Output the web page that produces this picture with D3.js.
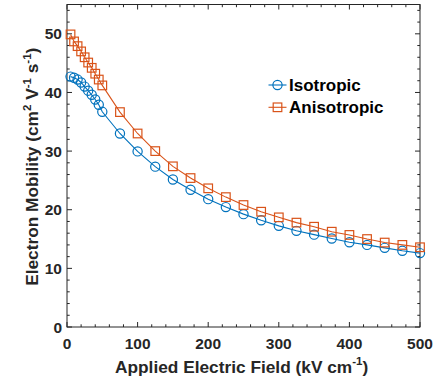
<!DOCTYPE html>
<html>
<head>
<meta charset="utf-8">
<script src="https://cdn.jsdelivr.net/npm/d3@7"></script>
<style>
  body { margin: 0; background: #fff; }
  svg { display: block; font-family: "Liberation Sans", Arial, sans-serif; }
</style>
</head>
<body>
<div id="chart"></div>
<script>
// field values (kV/cm)
const fields = [5, 10, 15, 20, 25, 30, 35, 40, 45, 50, 75, 100, 125, 150, 175, 200,
  225, 250, 275, 300, 325, 350, 375, 400, 425, 450, 475, 500];
const isotropic = [42.7, 42.5, 42.2, 41.7, 41.0, 40.3, 39.6, 38.8, 37.9, 36.7, 33.0, 29.95,
  27.35, 25.15, 23.4, 21.8, 20.45, 19.25, 18.2, 17.25, 16.4, 15.75, 15.1, 14.45, 14.0, 13.5, 13.0, 12.6];
const anisotropic = [49.9, 48.7, 47.9, 47.0, 46.0, 45.1, 44.2, 43.2, 42.2, 41.2, 36.65, 33.0,
  30.0, 27.4, 25.4, 23.65, 22.15, 20.8, 19.66, 18.7, 17.8, 17.1, 16.25, 15.7, 15.0, 14.4, 14.0, 13.6];
const xTicks = [0, 100, 200, 300, 400, 500];
const yTicks = [0, 10, 20, 30, 40, 50];

const width = 442, height = 381;
const margin = { top: 4.5, right: 22, bottom: 54, left: 67 };
const axisColor = '#262626';
const blue = '#0072BD', orange = '#D95319';

const svg = d3.select('#chart').append('svg')
  .attr('width', width)
  .attr('height', height);

const x = d3.scaleLinear().domain([0, 500]).range([margin.left, width - margin.right]);
const y = d3.scaleLinear().domain([0, 55]).range([height - margin.bottom, margin.top]);

const x0 = x.range()[0], x1 = x.range()[1];
const y0 = y.range()[0], y1 = y.range()[1];

// minor + major ticks, pointing inward on all four sides
const g = svg.append('g').attr('stroke', axisColor).attr('stroke-width', 1);
d3.range(0, 501, 20).forEach(v => {
  const len = v % 100 === 0 ? 5 : 2.7;
  g.append('line').attr('x1', x(v)).attr('x2', x(v)).attr('y1', y0).attr('y2', y0 - len);
  g.append('line').attr('x1', x(v)).attr('x2', x(v)).attr('y1', y1).attr('y2', y1 + len);
});
d3.range(0, 55, 2).forEach(v => {
  const len = v % 10 === 0 ? 5 : 2.7;
  g.append('line').attr('y1', y(v)).attr('y2', y(v)).attr('x1', x0).attr('x2', x0 + len);
  g.append('line').attr('y1', y(v)).attr('y2', y(v)).attr('x1', x1).attr('x2', x1 - len);
});

svg.append('rect')
  .attr('x', x0).attr('y', y1)
  .attr('width', x1 - x0).attr('height', y0 - y1)
  .attr('fill', 'none').attr('stroke', axisColor).attr('stroke-width', 1);

// tick labels
svg.append('g').selectAll('text').data(xTicks).enter().append('text')
  .attr('x', d => x(d)).attr('y', y0 + 22)
  .attr('text-anchor', 'middle')
  .attr('font-size', 15.5).attr('font-weight', 'bold').attr('fill', axisColor)
  .text(d => d);

svg.append('g').selectAll('text').data(yTicks).enter().append('text')
  .attr('x', x0 - 5).attr('y', d => y(d) + 5.5)
  .attr('text-anchor', 'end')
  .attr('font-size', 15.5).attr('font-weight', 'bold').attr('fill', axisColor)
  .text(d => d);

// axis labels
const xl = svg.append('text')
  .attr('x', 115).attr('y', 372.5)
  .attr('font-size', 17.3).attr('font-weight', 'bold').attr('fill', axisColor);
xl.append('tspan').text('Applied Electric Field (kV cm');
xl.append('tspan').attr('font-size', 11.5).attr('dy', -7.5).text('-1');
xl.append('tspan').attr('dy', 7.5).text(')');

const yl = svg.append('text')
  .attr('transform', `translate(38,${(y0 + y1) / 2 + 1}) rotate(-90)`)
  .attr('text-anchor', 'middle')
  .attr('font-size', 17.3).attr('font-weight', 'bold').attr('fill', axisColor);
yl.append('tspan').text('Electron Mobility (cm');
yl.append('tspan').attr('font-size', 11.5).attr('dy', -7.5).text('2');
yl.append('tspan').attr('dy', 7.5).text(' V');
yl.append('tspan').attr('font-size', 11.5).attr('dy', -7.5).text('-1');
yl.append('tspan').attr('dy', 7.5).text(' s');
yl.append('tspan').attr('font-size', 11.5).attr('dy', -7.5).text('-1');
yl.append('tspan').attr('dy', 7.5).text(')');

// series
const series = [
  { name: 'Isotropic', values: isotropic, color: blue, marker: 'circle' },
  { name: 'Anisotropic', values: anisotropic, color: orange, marker: 'square' }
];

const line = d3.line().x(d => x(d[0])).y(d => y(d[1]));

function drawMarker(sel, type, color) {
  if (type === 'circle') {
    sel.append('circle').attr('r', 4.6)
      .attr('fill', 'none').attr('stroke', color).attr('stroke-width', 1.2);
  } else {
    sel.append('rect').attr('x', -4.3).attr('y', -4.3).attr('width', 8.6).attr('height', 8.6)
      .attr('fill', 'none').attr('stroke', color).attr('stroke-width', 1.2);
  }
}

series.forEach(s => {
  const pts = fields.map((f, i) => [f, s.values[i]]);
  svg.append('path')
    .attr('d', line(pts))
    .attr('fill', 'none').attr('stroke', s.color).attr('stroke-width', 1.1);
  svg.append('g').selectAll('g').data(pts).enter().append('g')
    .attr('transform', d => `translate(${x(d[0])},${y(d[1])})`)
    .each(function () { drawMarker(d3.select(this), s.marker, s.color); });
});

// legend
const legend = svg.append('g').attr('transform', 'translate(268.5,85)');
series.forEach((s, i) => {
  const row = legend.append('g').attr('transform', `translate(0,${i * 22.3})`);
  row.append('line').attr('x1', 0).attr('x2', 18).attr('stroke', s.color).attr('stroke-width', 1.1);
  const m = row.append('g').attr('transform', 'translate(9,0)');
  drawMarker(m, s.marker, s.color);
  row.append('text').attr('x', 20.5).attr('y', 6)
    .attr('font-size', 17).attr('font-weight', 'bold').attr('fill', '#000')
    .text(s.name);
});
</script>
</body>
</html>
